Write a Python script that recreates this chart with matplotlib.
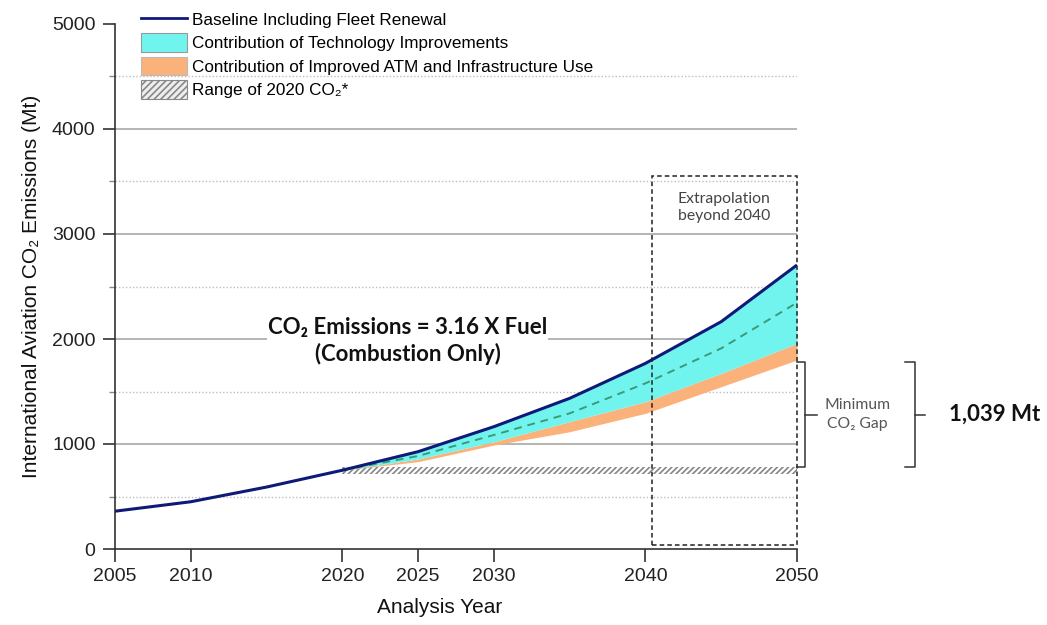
"""
International aviation CO2 emissions: baseline vs. technology and ATM contributions.
"""

import numpy as np
import matplotlib
matplotlib.use("Agg")
import matplotlib.pyplot as plt
import matplotlib.patches as mpatches
import matplotlib.transforms as mtransforms
from matplotlib.lines import Line2D

# --- data (Mt CO2) ---
YEARS_HIST = [2005, 2010, 2015, 2020]
BASE_HIST = [360, 450, 590, 750]

YEARS = [2020, 2025, 2030, 2035, 2040, 2045, 2050]
BASELINE = [750, 927, 1165, 1435, 1768, 2165, 2705]
TECH_MID = [750, 886, 1086, 1292, 1578, 1911, 2346]      # dashed line
TECH_LOW = [750, 857, 1022, 1213, 1403, 1673, 1959]      # bottom of cyan / top of orange
ATM_LOW = [750, 832, 990, 1117, 1292, 1546, 1800]        # bottom of orange

RANGE_2020 = (712, 782)       # hatched band, 2020..2050
GAP_TOP, GAP_BOTTOM = 1780, 780
GAP_LABEL = "1,039 Mt"

XTICKS = [2005, 2010, 2020, 2025, 2030, 2040, 2050]
EXTRAP_BOX = (2040.4, 2050, 40, 3550)   # x0, x1, y0, y1

NAVY = "#0f1a78"
CYAN = "#72F4EE"
ORANGE = "#FBB27A"
DASH_GREEN = "#3c9a78"

ARIAL = ["Liberation Sans", "DejaVu Sans"]
CALIBRI = ["Lato", "DejaVu Sans"]


def main():
    plt.rcParams["font.family"] = ARIAL
    plt.rcParams["hatch.color"] = "#858585"
    plt.rcParams["hatch.linewidth"] = 1.2

    fig = plt.figure(figsize=(10.47, 6.25), dpi=100)
    ax = fig.add_axes([115 / 1047, 76 / 625, 682 / 1047, 525 / 625])

    ax.set_xlim(2005, 2050)
    ax.set_ylim(0, 5000)

    # grid: solid at thousands, dotted at half-thousands
    for y in range(1000, 5000, 1000):
        ax.axhline(y, color="#a0a0a0", lw=1.1, zorder=0)
    for y in range(500, 5000, 1000):
        ax.axhline(y, color="#bdbdbd", lw=1.0, ls=(0, (1, 1.5)), zorder=0)

    # hatched range of 2020 CO2
    ax.fill_between([2020, 2050], RANGE_2020[0], RANGE_2020[1],
                    facecolor="white", edgecolor="#858585", hatch="//////",
                    lw=0, zorder=1)

    ax.fill_between(YEARS, ATM_LOW, TECH_LOW, color=ORANGE, lw=0, zorder=2)
    ax.fill_between(YEARS, TECH_LOW, BASELINE, color=CYAN, lw=0, zorder=2)
    ax.plot(YEARS, TECH_MID, color=DASH_GREEN, lw=1.4, ls=(0, (4, 3)), zorder=3)
    ax.plot(YEARS_HIST + YEARS[1:], BASE_HIST + BASELINE[1:],
            color=NAVY, lw=2.2, zorder=4, solid_capstyle="butt")

    # extrapolation box
    x0, x1, y0, y1 = EXTRAP_BOX
    ax.add_patch(mpatches.Rectangle((x0, y0), x1 - x0, y1 - y0, fill=False,
                                    ec="#222222", lw=1.1, ls=(0, (3, 2)),
                                    zorder=5, clip_on=False))
    ax.text((x0 + x1) / 2, 3250, "Extrapolation\nbeyond 2040", ha="center",
            va="center", fontsize=11.3, color="#444444", family=CALIBRI,
            linespacing=1.3)

    ax.text(2024.3, 1980, "CO₂ Emissions = 3.16 X Fuel\n(Combustion Only)",
            ha="center", va="center", fontsize=16, fontweight="bold",
            family=CALIBRI, color="#111111", linespacing=1.25,
            bbox=dict(fc="white", ec="none", pad=1), zorder=3)

    # brackets to the right of the axes
    tr = mtransforms.blended_transform_factory(ax.transAxes, ax.transData)
    ymid = (GAP_TOP + GAP_BOTTOM) / 2
    for xv, xarm, xnub in [(1.0117, 1.0, 1.029), (1.173, 1.158, 1.187)]:
        ax.add_line(Line2D([xarm, xv, xv, xarm], [GAP_TOP, GAP_TOP, GAP_BOTTOM, GAP_BOTTOM],
                           transform=tr, color="#333333", lw=1.1, clip_on=False))
        ax.add_line(Line2D([xv, xnub], [ymid, ymid], transform=tr,
                           color="#333333", lw=1.1, clip_on=False))
    ax.text(1.089, ymid, "Minimum\nCO₂ Gap", transform=tr, ha="center",
            va="center", fontsize=11.3, color="#555555", family=CALIBRI,
            linespacing=1.4)
    ax.text(1.29, ymid, GAP_LABEL, transform=tr, ha="center", va="center",
            fontsize=16, fontweight="bold", family=CALIBRI, color="#111111")

    # axes styling
    for side in ("top", "right"):
        ax.spines[side].set_visible(False)
    for side in ("left", "bottom"):
        ax.spines[side].set_color("#333333")
        ax.spines[side].set_linewidth(1.2)
    ax.set_xticks(XTICKS)
    ax.set_yticks(range(0, 5001, 1000))
    ax.set_yticks(range(500, 5000, 1000), minor=True)
    ax.tick_params(axis="both", which="major", length=9, width=1.2,
                   color="#333333", labelsize=14, labelcolor="#222222", pad=5)
    ax.tick_params(axis="y", which="minor", length=4, width=1.0, color="#888888")

    ax.set_xlabel("Analysis Year", fontsize=15, color="#111111")
    ax.xaxis.set_label_coords(0.476, -0.093)
    ax.set_ylabel("International Aviation CO₂ Emissions (Mt)", fontsize=15,
                  color="#111111", labelpad=8)

    handles = [
        Line2D([], [], color=NAVY, lw=2),
        mpatches.Patch(fc=CYAN, ec="#999999", lw=0.8),
        mpatches.Patch(fc=ORANGE, ec="#bbbbbb", lw=0.8),
        mpatches.Patch(fc="#eeeeee", ec="#888888", lw=0.8, hatch="/////"),
    ]
    labels = [
        "Baseline Including Fleet Renewal",
        "Contribution of Technology Improvements",
        "Contribution of Improved ATM and Infrastructure Use",
        "Range of 2020 CO₂*",
    ]
    fig.legend(handles, labels, loc="upper left",
               bbox_to_anchor=(141 / 1047, 1 - 10 / 625), frameon=False,
               fontsize=12.3, handlelength=2.7, handleheight=1.3,
               handletextpad=0.3, labelspacing=0.28, borderpad=0,
               borderaxespad=0)

    fig.savefig("out.png", dpi=100)
    plt.close(fig)


if __name__ == "__main__":
    main()
